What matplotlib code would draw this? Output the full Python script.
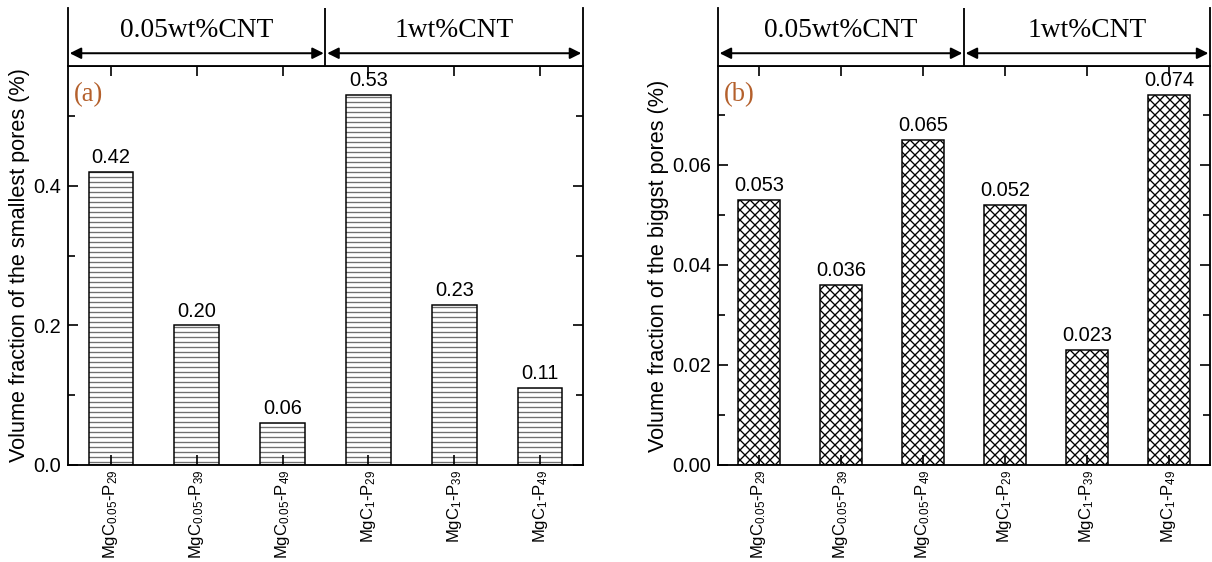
import matplotlib
matplotlib.use("Agg")
import matplotlib.pyplot as plt
from matplotlib.ticker import MultipleLocator, FormatStrFormatter

plt.rcParams["font.family"] = ["Liberation Sans", "DejaVu Sans"]
plt.rcParams["mathtext.default"] = "regular"
plt.rcParams["hatch.linewidth"] = 0.8

# data
samples = ["MgC$_{0.05}$-P$_{29}$", "MgC$_{0.05}$-P$_{39}$", "MgC$_{0.05}$-P$_{49}$",
           "MgC$_{1}$-P$_{29}$", "MgC$_{1}$-P$_{39}$", "MgC$_{1}$-P$_{49}$"]
smallest = [0.42, 0.20, 0.06, 0.53, 0.23, 0.11]
smallest_txt = ["0.42", "0.20", "0.06", "0.53", "0.23", "0.11"]
biggest = [0.053, 0.036, 0.065, 0.052, 0.023, 0.074]
biggest_txt = ["0.053", "0.036", "0.065", "0.052", "0.023", "0.074"]
groups = ["0.05wt%CNT", "1wt%CNT"]

W, H, DPI = 1212, 562, 120
fig = plt.figure(figsize=(W / DPI, H / DPI), dpi=DPI)

def px(x0, y0, x1, y1):
    # pixel box -> figure fraction [left, bottom, width, height]
    return [x0 / W, 1 - y1 / H, (x1 - x0) / W, (y1 - y0) / H]

def panel(box, vals, txts, hatch, hcol, ylim, major, minor, fmt, ylabel, tag, off):
    ax = fig.add_axes(px(*box))
    x = range(1, len(vals) + 1)
    # hatch drawn first (own colour), black outline on top
    ax.bar(x, vals, width=0.52, color="white", edgecolor=hcol,
           linewidth=0, hatch=hatch)
    ax.bar(x, vals, width=0.52, fill=False, edgecolor="black", linewidth=0.9)
    for xi, v, t in zip(x, vals, txts):
        ax.text(xi, v + off, t, ha="center", va="bottom", fontsize=12)
    ax.set_xlim(0.5, 6.5)
    ax.set_ylim(*ylim)
    ax.set_xticks(list(x))
    ax.set_xticklabels(samples, rotation=90, fontsize=10)
    ax.yaxis.set_major_locator(MultipleLocator(major))
    ax.yaxis.set_minor_locator(MultipleLocator(minor))
    ax.yaxis.set_major_formatter(FormatStrFormatter(fmt))
    ax.tick_params(which="both", direction="in", top=True, right=True, pad=4)
    ax.tick_params(axis="y", labelsize=12)
    ax.tick_params(axis="x", pad=3)
    ax.tick_params(which="major", length=6, width=1)
    ax.tick_params(which="minor", length=4, width=1)
    ax.tick_params(axis="x", which="minor", bottom=False, top=False)
    ax.set_ylabel(ylabel, fontsize=13, labelpad=2)
    for s in ax.spines.values():
        s.set_linewidth(1.1)
    ax.text(0.012, 0.96, tag, transform=ax.transAxes, ha="left", va="top",
            fontsize=16, family="Liberation Serif", color="#B4602C")

    # header with group arrows
    hx = fig.add_axes(px(box[0], 8, box[2], box[1]))
    hx.set_xlim(0.5, 6.5)
    hx.set_ylim(0, 1)
    hx.set_xticks([])
    hx.set_yticks([])
    hx.spines["top"].set_visible(False)
    for s in hx.spines.values():
        s.set_linewidth(1.1)
    hx.axvline(3.5, color="black", linewidth=1.1)
    for (a, b), g in zip([(0.5, 3.5), (3.5, 6.5)], groups):
        hx.annotate("", xy=(a + 0.02, 0.22), xytext=(b - 0.02, 0.22),
                    arrowprops=dict(arrowstyle="<|-|>", color="black",
                                    linewidth=1.2, mutation_scale=14,
                                    shrinkA=0, shrinkB=0))
        hx.text((a + b) / 2, 0.62, g, ha="center", va="center",
                fontsize=16.5, family="Liberation Serif")
    return ax

panel((68, 66, 583, 465), smallest, smallest_txt, "----", "#707070", (0, 0.572),
      0.2, 0.1, "%.1f", "Volume fraction of the smallest pores (%)", "(a)", 0.007)
panel((718, 66, 1210, 465), biggest, biggest_txt, "xxxx", "black", (0, 0.0797),
      0.02, 0.01, "%.2f", "Volume fraction of the biggst pores (%)", "(b)", 0.0009)

fig.savefig("out.png", dpi=DPI)
